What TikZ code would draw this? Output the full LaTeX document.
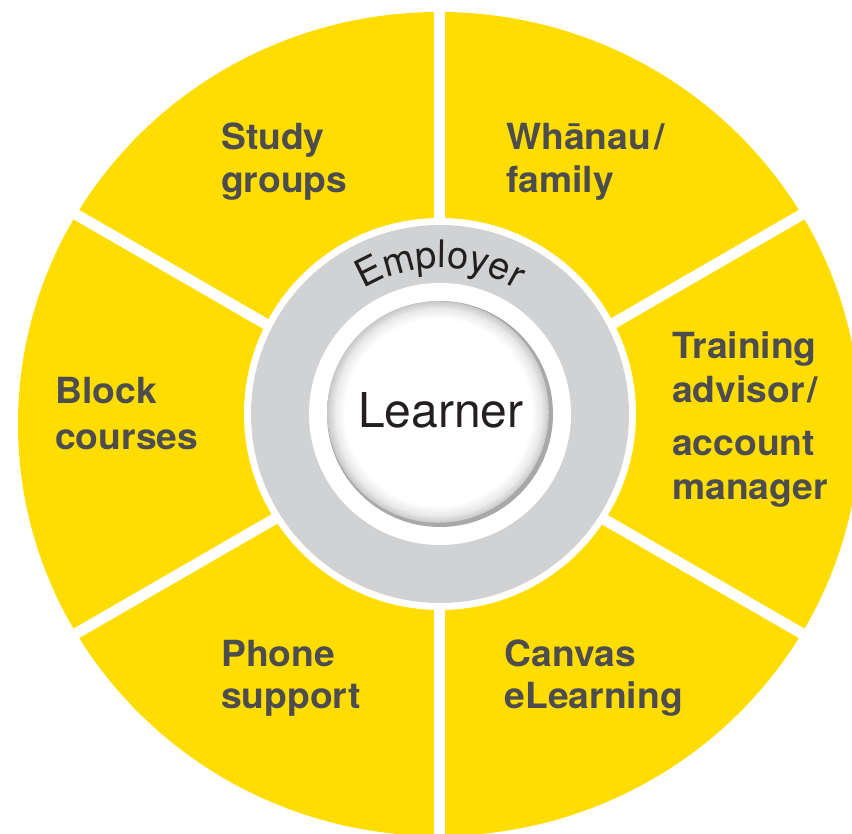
\documentclass[tikz,border=0pt]{standalone}
\usepackage{fontspec}
\setmainfont{TeX Gyre Heros}
\newfontfamily\wheelfont[FakeStretch=1.035]{TeX Gyre Heros}
\usetikzlibrary{decorations.text}
\definecolor{wheelyellow}{RGB}{255,221,0}
\definecolor{ringgray}{RGB}{209,210,212}
\definecolor{labelgray}{RGB}{77,77,79}
\definecolor{learnerblack}{RGB}{35,31,32}
\definecolor{rimgray}{RGB}{168,168,170}
\definecolor{rimmid}{RGB}{200,200,202}
\definecolor{rimlight}{RGB}{234,234,235}
\pgfdeclareradialshading{learnerrim}{\pgfpoint{0bp}{0bp}}{color(0bp)=(white); color(21bp)=(white); color(23.3bp)=(rimlight); color(25bp)=(rimmid); color(50bp)=(rimmid)}
\begin{document}
\begin{tikzpicture}[x=1pt,y=1pt,
  wheeltext/.style={font=\wheelfont\fontsize{36}{36}\selectfont\bfseries, text=labelgray, anchor=base west, inner sep=0pt},
  divider/.style={draw=white, line width=11pt}]
\useasboundingbox (0,0) rectangle (852,834);
\clip (0,0) rectangle (852,834);
\coordinate (W) at (439,410);
\coordinate (R) at (440,420);
% yellow wheel
\fill[wheelyellow] (W) ellipse [x radius=421, y radius=412];
% white dividers
\foreach \a in {30,90,150,210,270,330}
  \draw[divider] (W) -- ++(\a:480);
% employer ring
\fill[white] (R) circle[radius=196];
\fill[ringgray] (R) circle[radius=189];
\fill[white] (R) circle[radius=131];
% learner disk
\fill[rimgray] (R) circle[radius=113];
\shade[shading=learnerrim] ([shift={(-2,2)}]R) circle[radius=110.8];
\node[font=\fontsize{48}{48}\selectfont, text=learnerblack, anchor=base, inner sep=0pt] (learner) at (440.8,406.7) {Learner};
\path[decorate, decoration={text along path, text align=center,
  text={|\fontsize{38}{38}\selectfont\color{learnerblack}|Employer}}]
  ([shift={(180:146)}]R) arc[start angle=180, end angle=0, radius=146];
% labels
\node[wheeltext] (studyA) at (221,684.7) {Study};
\node[wheeltext] (studyB) at (221,641.3) {groups};
\node[wheeltext] (whanauA) at (506,684.7) {Whānau\kern3pt/};
\node[wheeltext] (whanauB) at (506,641.3) {family};
\node[wheeltext] (blockA) at (55,430) {Block};
\node[wheeltext] (blockB) at (55,384.7) {courses};
\node[wheeltext] (trainA) at (672,475) {Training};
\node[wheeltext] (trainB) at (672,431.3) {advisor\kern3pt/};
\node[wheeltext] (trainC) at (672,378.1) {account};
\node[wheeltext] (trainD) at (672,334) {manager};
\node[wheeltext] (phoneA) at (221,167.3) {Phone};
\node[wheeltext] (phoneB) at (221,125.7) {support};
\node[wheeltext] (canvasA) at (504.5,167.3) {Canvas};
\node[wheeltext] (canvasB) at (504.5,125.7) {eLearning};
\end{tikzpicture}
\end{document}
